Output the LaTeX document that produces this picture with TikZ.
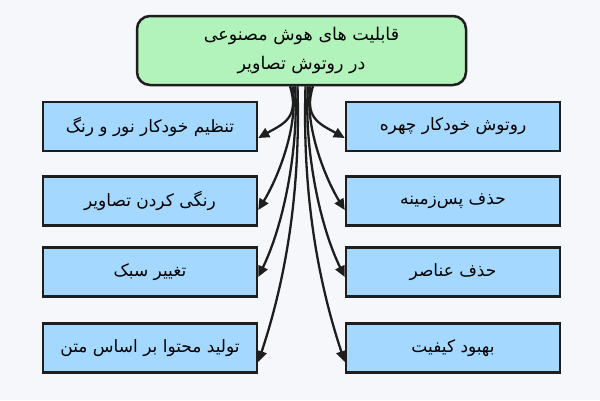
\documentclass[tikz,border=0pt]{standalone}
\usepackage{fontspec}
\newfontfamily\arabicfont[Script=Arabic]{DejaVu Sans}
\TeXXeTstate=1
\usetikzlibrary{arrows.meta}
\definecolor{bgc}{HTML}{F5F7FA}
\definecolor{greenc}{HTML}{B2F2BB}
\definecolor{bluec}{HTML}{A5D8FF}
\definecolor{linec}{HTML}{1E1E1E}
\tikzset{
  topbox/.style={draw=linec, line width=2.5pt, fill=greenc, rounded corners=13pt,
    minimum width=329pt, minimum height=69pt, align=center,
    font=\arabicfont\fontsize{17.5}{29}\selectfont, inner sep=0pt},
  itembox/.style={draw=linec, line width=2.5pt, fill=bluec,
    minimum width=214pt, minimum height=49pt, align=center,
    font=\arabicfont\fontsize{17}{22}\selectfont, inner sep=0pt},
  arr/.style={draw=linec, line width=2.3pt,
    -{Triangle[length=11pt,width=10pt]}},
}
\begin{document}
\begin{tikzpicture}[x=1pt,y=-1pt]
\fill[bgc] (0,0) rectangle (600,400);
\useasboundingbox (0,0) rectangle (600,400);

\node[topbox] (top) at (301.5,50.5) {\beginR قابلیت های هوش مصنوعی\endR\\\beginR در روتوش تصاویر\endR};

\node[itembox] (l1) at (150,126.5) {\beginR تنظیم خودکار نور و رنگ\endR};
\node[itembox] (l2) at (150,201) {\beginR رنگی کردن تصاویر\endR};
\node[itembox] (l3) at (150,272) {\beginR تغییر سبک\endR};
\node[itembox] (l4) at (150,348) {\beginR تولید محتوا بر اساس متن\endR};

\node[itembox] (r1) at (453,126.5) {\beginR روتوش خودکار چهره\endR};
\node[itembox] (r2) at (453,201) {\beginR حذف پس‌زمینه\endR};
\node[itembox] (r3) at (453,272) {\beginR حذف عناصر\endR};
\node[itembox] (r4) at (453,348) {\beginR بهبود کیفیت\endR};

\draw[arr] ([xshift=-11.5pt]top.south) .. controls (300,118) and (283,124) .. ([yshift=-11.5pt]l1.east);
\draw[arr] ([xshift=11.5pt]top.south) .. controls (303,118) and (320,124) .. ([yshift=-11.5pt]r1.west);
\draw[arr] ([xshift=-9pt]top.south) .. controls (299,125) and (278,178) .. ([yshift=-9pt]l2.east);
\draw[arr] ([xshift=9pt]top.south) .. controls (304,125) and (325,178) .. ([yshift=-9pt]r2.west);
\draw[arr] ([xshift=-6.5pt]top.south) .. controls (299,140) and (286,220) .. ([yshift=-5pt]l3.east);
\draw[arr] ([xshift=6.5pt]top.south) .. controls (304,140) and (317,220) .. ([yshift=-5pt]r3.west);
\draw[arr] ([xshift=-4pt]top.south) .. controls (300,170) and (292,260) .. ([yshift=-14pt]l4.east);
\draw[arr] ([xshift=4pt]top.south) .. controls (303,170) and (311,260) .. ([yshift=-14pt]r4.west);
\end{tikzpicture}
\end{document}
